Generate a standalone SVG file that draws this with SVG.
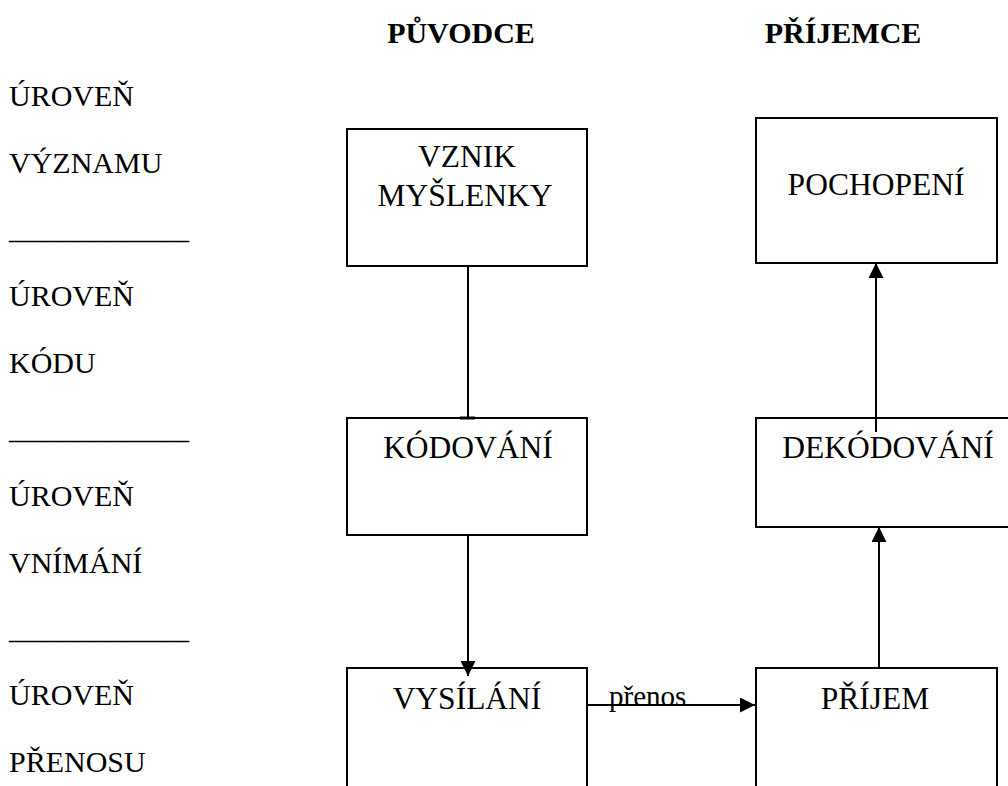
<svg xmlns="http://www.w3.org/2000/svg" width="1008" height="786" viewBox="0 0 1008 786">
<defs>
<style>
.t{font-family:"Liberation Serif","Times New Roman",serif;fill:#000}
.lbl{font-size:30px}
.hd{font-size:30px;font-weight:bold;text-anchor:middle}
.bx{font-size:31.5px;text-anchor:middle}
.box{fill:#fff;stroke:#000;stroke-width:2}
.ln{stroke:#000;stroke-width:2;fill:none}
</style>
<marker id="ah" viewBox="0 0 10 10" refX="10" refY="5" markerWidth="15" markerHeight="15" markerUnits="userSpaceOnUse" orient="auto">
<path d="M0,0 L10,5 L0,10 z" fill="#000"/>
</marker>
</defs>
<rect width="1008" height="786" fill="#fff"/>
<g id="headers">
<text class="t hd" x="461" y="43">PŮVODCE</text>
<text class="t hd" x="843" y="43">PŘÍJEMCE</text>
</g>
<g id="levels">
<text class="t lbl" x="9" y="106">ÚROVEŇ</text>
<text class="t lbl" x="9" y="173">VÝZNAMU</text>
<text class="t lbl" x="9" y="239">____________</text>
<text class="t lbl" x="9" y="306">ÚROVEŇ</text>
<text class="t lbl" x="9" y="373">KÓDU</text>
<text class="t lbl" x="9" y="439">____________</text>
<text class="t lbl" x="9" y="506">ÚROVEŇ</text>
<text class="t lbl" x="9" y="573">VNÍMÁNÍ</text>
<text class="t lbl" x="9" y="639">____________</text>
<text class="t lbl" x="9" y="705">ÚROVEŇ</text>
<text class="t lbl" x="9" y="772">PŘENOSU</text>
</g>
<g id="n-vznik">
<rect class="box" x="347" y="129" width="240" height="137"/>
<text class="t bx" x="467" y="167">VZNIK</text>
<text class="t bx" x="465" y="206">MYŠLENKY</text>
</g>
<g id="n-pochopeni">
<rect class="box" x="756" y="118" width="241" height="145"/>
<text class="t bx" x="876" y="195">POCHOPENÍ</text>
</g>
<g id="n-kodovani">
<rect class="box" x="347" y="418" width="240" height="117"/>
<text class="t bx" x="468" y="458">KÓDOVÁNÍ</text>
</g>
<g id="n-dekodovani">
<rect class="box" x="756" y="418" width="264" height="109"/>
<text class="t bx" x="888" y="458">DEKÓDOVÁNÍ</text>
</g>
<g id="n-vysilani">
<rect class="box" x="347" y="668" width="240" height="130"/>
<text class="t bx" x="467" y="709">VYSÍLÁNÍ</text>
</g>
<g id="n-prijem">
<rect class="box" x="756" y="668" width="241" height="130"/>
<text class="t bx" x="875" y="709">PŘÍJEM</text>
</g>
<g id="connectors">
<line class="ln" x1="468" y1="266" x2="468" y2="418"/>
<line x1="460" y1="418" x2="475" y2="418" stroke="#000" stroke-width="3"/>
<line class="ln" x1="468" y1="535" x2="468" y2="676" marker-end="url(#ah)"/>
<line class="ln" x1="587" y1="705" x2="755" y2="705" marker-end="url(#ah)"/>
<text class="t" x="609" y="706" font-size="29">přenos</text>
<line class="ln" x1="879" y1="668" x2="879" y2="527" marker-end="url(#ah)"/>
<line class="ln" x1="876" y1="432" x2="876" y2="263" marker-end="url(#ah)"/>
</g>
</svg>
